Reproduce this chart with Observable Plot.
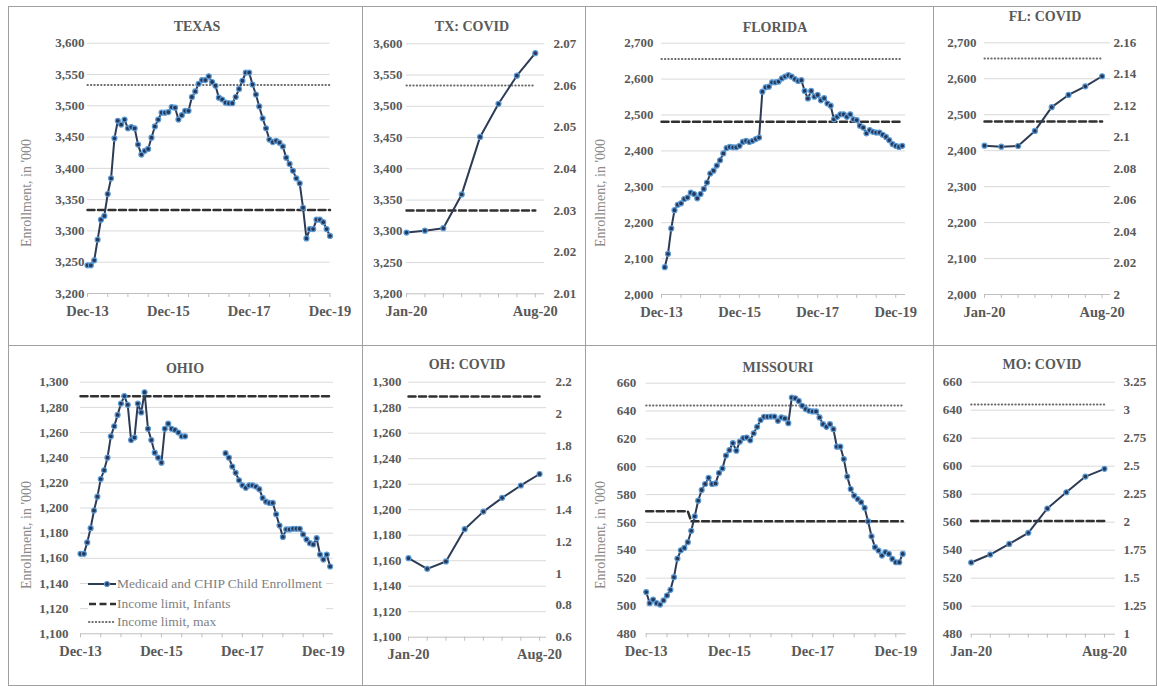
<!DOCTYPE html>
<html><head><meta charset="utf-8">
<script src="https://cdn.jsdelivr.net/npm/d3@7"></script>
<script src="https://cdn.jsdelivr.net/npm/@observablehq/plot@0.6"></script>
<style>
body{margin:0;background:#fff;}
#root{position:relative;width:1157px;height:686px;overflow:hidden;font-family:"Liberation Serif","Times New Roman",serif;background:#fff;}
#root svg text{font-family:"Liberation Serif","Times New Roman",serif;}
.ln{position:absolute;background:#a0a0a0;}
.svgwrap{position:absolute;}
.title{position:absolute;transform:translate(-50%,-50%);font-weight:bold;font-size:14px;color:#595959;white-space:nowrap;}
.ytitle{position:absolute;transform:translate(-50%,-50%) rotate(-90deg);font-size:14px;color:#8a8a8a;white-space:nowrap;}
.legend{position:absolute;background:#fff;font-size:13.5px;color:#7f7f7f;}
.legend .row{position:absolute;left:0;height:16px;display:flex;align-items:center;white-space:nowrap;}
.legend svg{margin-right:1px;}
</style></head>
<body><div id="root"></div>
<script>
// ---------- data ----------
const mainTickPos = [0, 24, 48, 72];
const mainTickLabels = ["Dec-13", "Dec-15", "Dec-17", "Dec-19"];
const covidTickPos = [0, 7];
const covidTickLabels = ["Jan-20", "Aug-20"];
// month index 0 = Dec-13
const texasStart = 0;
const texas = [3245,3245,3253,3286,3318,3324,3359,3384,3448,3476,3470,3478,3464,3466,3464,3438,3422,3428,3431,3449,3467,3478,3489,3489,3490,3498,3497,3478,3485,3492,3492,3514,3523,3535,3541,3541,3547,3538,3532,3513,3510,3505,3504,3504,3514,3527,3540,3553,3553,3534,3518,3499,3480,3464,3446,3442,3444,3441,3435,3417,3407,3396,3384,3376,3337,3288,3303,3303,3318,3318,3314,3303,3292];
const floridaStart = 1;
const florida = [2076,2113,2184,2235,2250,2254,2266,2270,2284,2280,2268,2280,2294,2312,2337,2345,2359,2374,2393,2408,2411,2410,2410,2414,2425,2428,2425,2428,2433,2437,2565,2577,2579,2591,2591,2593,2602,2607,2611,2607,2600,2595,2597,2567,2546,2567,2551,2556,2541,2547,2532,2526,2488,2495,2502,2502,2495,2502,2488,2486,2470,2465,2449,2458,2453,2451,2451,2445,2439,2430,2419,2414,2411,2414];
const ohioStartA = 0;
const ohioA = [1163.6,1163.6,1172.6,1184,1198,1209,1223,1230,1240,1257,1265,1274,1283,1289,1282,1254,1256,1283,1276,1292,1263,1254,1244,1240,1236,1263,1267,1263,1262,1260,1257,1257];
const ohioStartB = 43;
const ohioB = [1243.6,1240,1233,1228,1222,1218,1216,1218,1218,1217,1215,1208,1205,1204,1204,1195,1186,1177,1183,1183,1183.5,1183.5,1183.5,1179,1175,1172,1171,1176,1163,1159,1163,1153.5];
const missouriStart = 0;
const missouri = [510,502,504.5,502,501,504,507.5,511.6,520.7,534,540,541.7,545.8,554,564.4,575.6,583.3,587.6,592,587.6,588,595.5,598.8,608,612,617,611.5,618,620.6,621,619,624,628.7,633.5,635.9,635.9,636,636,633,635.4,634.7,631.3,649.7,649.2,647.3,643.8,641.4,640.2,639.7,639.7,635.4,630.6,628.7,630.6,627,614.4,614.4,605.5,592.9,584,579.2,576.8,574.5,570.4,560.8,550,542.2,539.8,536.2,538.6,537.4,533.8,531.4,531.4,537.4];
// COVID months Jan-20 .. Aug-20
const txCovid = [3298,3301,3305,3359,3451,3504,3549,3585];
const flCovid = [2414,2411,2413,2455,2521,2555,2579,2607];
const ohCovid = [1162,1153.6,1159.4,1184.7,1198.5,1209.3,1219,1228];
const moCovid = [531.2,536.9,544.5,552.4,569.8,581.4,592.6,598.1];
// income limits (ratio to FPL, right axis units): [month index, value]
const txInfants = [[0,2.03],[72,2.03]];
const txMax = [[0,2.06],[72,2.06]];
const flInfants = [[0,2.11],[74,2.11]];
const flMax = [[0,2.15],[74,2.15]];
const ohInfants = [[0,2.11],[74,2.11]];
const moInfants = [[0,2.10],[12,2.10],[13,2.01],[74,2.01]];
const moMax = [[0,3.05],[74,3.05]];
const txCovidInfants = [[0,2.03],[7,2.03]];
const txCovidMax = [[0,2.06],[7,2.06]];
const flCovidInfants = [[0,2.11],[7,2.11]];
const flCovidMax = [[0,2.15],[7,2.15]];
const ohCovidInfants = [[0,2.11],[7,2.11]];
const moCovidInfants = [[0,2.01],[7,2.01]];
const moCovidMax = [[0,3.05],[7,3.05]];
// right-axis ticks
const txRight = [2.01,2.02,2.03,2.04,2.05,2.06,2.07];
const flRight = [2,2.02,2.04,2.06,2.08,2.1,2.12,2.14,2.16];
const ohRight = [0.6,0.8,1,1.2,1.4,1.6,1.8,2,2.2];
const moRight = [1,1.25,1.5,1.75,2,2.25,2.5,2.75,3,3.25];

// ---------- helpers ----------
const toSeries = (start, vals, seg = 0) => vals.map((v, i) => ({m: start + i, v, seg}));
const toLimit = arr => arr.map(([m, r]) => ({m, r}));
const fmtR = d => String(+d.toFixed(2));
const root = document.getElementById("root");
const LINE = "#2d3b55", MFILL = "#27385a", MSTROKE = "#5b9bd5";
const DASH = {stroke: "#303030", strokeWidth: 2.5, strokeDasharray: "7,3.5"};
const DOT = {stroke: "#6a6a6a", strokeWidth: 2, strokeDasharray: "0.4,3", strokeLinecap: "round"};

function panel(p) {
  const [L, T, W, H] = p.box;
  const [x0, x1, y0, y1] = p.plot;
  const yTicks = d3.range(p.yDomain[0], p.yDomain[1] + p.yStep / 2, p.yStep);
  const map = d3.scaleLinear().domain(p.rDomain).range(p.yDomain);
  const minor = p.covid ? d3.range(0, 8) : d3.range(0, 73, 6);
  const majorPos = p.covid ? covidTickPos : mainTickPos;
  const majorLab = p.covid ? covidTickLabels : mainTickLabels;
  const marks = [
    Plot.ruleY(yTicks.slice(1), {stroke: "#d9d9d9", strokeWidth: 1}),
    Plot.ruleY([p.yDomain[0]], {stroke: "#bfbfbf", strokeWidth: 1}),
    Plot.axisX({ticks: minor, tickSize: 4, tickFormat: () => "", stroke: "#bfbfbf", label: null}),
    Plot.axisX({ticks: majorPos, tickSize: 0, tickPadding: 12, tickFormat: d => majorLab[majorPos.indexOf(d)],
      fontSize: 14.5, fontWeight: "bold", fill: "#595959", label: null}),
    Plot.axisY({ticks: yTicks, tickSize: 0, tickPadding: p.padL, tickFormat: d3.format(","),
      fontSize: 13, fontWeight: "bold", fill: "#595959", label: null})
  ];
  if (p.right) {
    marks.push(Plot.axisY({anchor: "right", ticks: p.right.map(r => map(r)), tickSize: 0, tickPadding: p.padR,
      tickFormat: d => fmtR(map.invert(d)), fontSize: 13, fontWeight: "bold", fill: "#595959", label: null}));
  }
  if (p.max) marks.push(Plot.line(toLimit(p.max), {x: "m", y: d => map(d.r), ...DOT}));
  if (p.infants) marks.push(Plot.line(toLimit(p.infants), {x: "m", y: d => map(d.r), ...DASH}));
  marks.push(Plot.line(p.series, {x: "m", y: "v", z: "seg", stroke: LINE, strokeWidth: 2}));
  marks.push(Plot.dot(p.series, {x: "m", y: "v", r: 2.5, fill: MFILL, stroke: MSTROKE, strokeWidth: 1.2}));
  const svg = Plot.plot({
    width: W, height: H,
    marginLeft: x0 - L, marginRight: L + W - x1, marginTop: y0 - T, marginBottom: T + H - y1,
    x: {domain: p.xDomain}, y: {domain: p.yDomain},
    style: {fontFamily: "Liberation Serif, Times New Roman, serif", background: "transparent", overflow: "visible"},
    marks
  });
  const wrap = document.createElement("div");
  wrap.className = "svgwrap";
  wrap.style.left = L + "px"; wrap.style.top = T + "px";
  wrap.appendChild(svg);
  root.appendChild(wrap);
  const t = document.createElement("div");
  t.className = "title"; t.textContent = p.title;
  t.style.left = p.titlePos[0] + "px"; t.style.top = p.titlePos[1] + "px";
  root.appendChild(t);
  if (p.ytitlePos) {
    const yt = document.createElement("div");
    yt.className = "ytitle"; yt.textContent = "Enrollment, in '000";
    yt.style.left = p.ytitlePos[0] + "px"; yt.style.top = p.ytitlePos[1] + "px";
    root.appendChild(yt);
  }
}

// borders
function line(x, y, w, h) { const d = document.createElement("div"); d.className = "ln"; Object.assign(d.style, {left: x + "px", top: y + "px", width: w + "px", height: h + "px"}); root.appendChild(d); }
[8, 362, 585, 933, 1156].forEach(x => line(x, 6, 1, 680));
[6, 345, 685].forEach(y => line(8, y, 1149, 1));

panel({title: "TEXAS", titlePos: [197, 27], ytitlePos: [27, 193], box: [8, 6, 354, 339], plot: [87, 329.5, 42.7, 293],
  xDomain: [0, 72], yDomain: [3200, 3600], yStep: 50, padL: 3, rDomain: [2.01, 2.07],
  series: toSeries(texasStart, texas), infants: txInfants, max: txMax});
panel({title: "TX: COVID", titlePos: [472, 27], box: [362, 6, 223, 339], plot: [406, 544, 43.3, 293.3], covid: true,
  xDomain: [0, 7.5], yDomain: [3200, 3600], yStep: 50, padL: 4, padR: 9, rDomain: [2.01, 2.07], right: txRight,
  series: toSeries(0, txCovid), infants: txCovidInfants, max: txCovidMax});
panel({title: "FLORIDA", titlePos: [775, 28], ytitlePos: [601, 193], box: [585, 6, 348, 339], plot: [661, 905, 42.7, 294],
  xDomain: [0, 75], yDomain: [2000, 2700], yStep: 100, padL: 8, rDomain: [2, 2.16],
  series: toSeries(floridaStart, florida), infants: flInfants, max: flMax});
panel({title: "FL: COVID", titlePos: [1045, 17], box: [933, 6, 224, 339], plot: [984, 1110, 42.3, 294], covid: true,
  xDomain: [0, 7.5], yDomain: [2000, 2700], yStep: 100, padL: 8, padR: 3, rDomain: [2, 2.16], right: flRight,
  series: toSeries(0, flCovid), infants: flCovidInfants, max: flCovidMax});
panel({title: "OHIO", titlePos: [185, 369], ytitlePos: [27, 535], box: [8, 345, 354, 340], plot: [80, 333, 381.7, 633.3],
  xDomain: [0, 75], yDomain: [1100, 1300], yStep: 20, padL: 12, rDomain: [0.6, 2.2],
  series: toSeries(ohioStartA, ohioA, 0).concat(toSeries(ohioStartB, ohioB, 1)), infants: ohInfants});
panel({title: "OH: COVID", titlePos: [467, 365], box: [362, 345, 223, 340], plot: [408, 546, 381.7, 636.7], covid: true,
  xDomain: [0, 7.37], yDomain: [1100, 1300], yStep: 20, padL: 7, padR: 9, rDomain: [0.6, 2.2], right: ohRight,
  series: toSeries(0, ohCovid), infants: ohCovidInfants});
panel({title: "MISSOURI", titlePos: [778, 368], ytitlePos: [601, 535], box: [585, 345, 348, 340], plot: [645.7, 905.7, 382.7, 633.3],
  xDomain: [0, 75], yDomain: [480, 660], yStep: 20, padL: 10, rDomain: [1, 3.25],
  series: toSeries(missouriStart, missouri), infants: moInfants, max: moMax});
panel({title: "MO: COVID", titlePos: [1042, 365], box: [933, 345, 224, 340], plot: [970.7, 1115, 381.7, 633.7], covid: true,
  xDomain: [0, 7.58], yDomain: [480, 660], yStep: 20, padL: 9, padR: 8, rDomain: [1, 3.25], right: moRight,
  series: toSeries(0, moCovid), infants: moCovidInfants, max: moCovidMax});

// legend (Ohio panel)
const legendItems = ["Medicaid and CHIP Child Enrollment", "Income limit, Infants", "Income limit, max"];
const lg = document.createElement("div");
lg.className = "legend";
Object.assign(lg.style, {left: "88px", top: "571px", width: "238px", height: "60px"});
const rowsY = [5, 25, 43];
const samples = [
  `<svg width="28" height="10"><line x1="0" y1="5" x2="28" y2="5" stroke="${LINE}" stroke-width="2"/><circle cx="19" cy="5" r="2.5" fill="${MFILL}" stroke="${MSTROKE}" stroke-width="1.2"/></svg>`,
  `<svg width="28" height="10"><line x1="1" y1="5" x2="28" y2="5" stroke="${DASH.stroke}" stroke-width="${DASH.strokeWidth}" stroke-dasharray="${DASH.strokeDasharray}"/></svg>`,
  `<svg width="28" height="10"><line x1="1" y1="5" x2="28" y2="5" stroke="${DOT.stroke}" stroke-width="${DOT.strokeWidth}" stroke-dasharray="${DOT.strokeDasharray}" stroke-linecap="round"/></svg>`
];
legendItems.forEach((txt, i) => {
  const r = document.createElement("div");
  r.className = "row";
  r.style.top = rowsY[i] + "px";
  r.innerHTML = samples[i];
  const s = document.createElement("span");
  s.textContent = txt;
  r.appendChild(s);
  lg.appendChild(r);
});
root.appendChild(lg);
</script>
</body></html>
